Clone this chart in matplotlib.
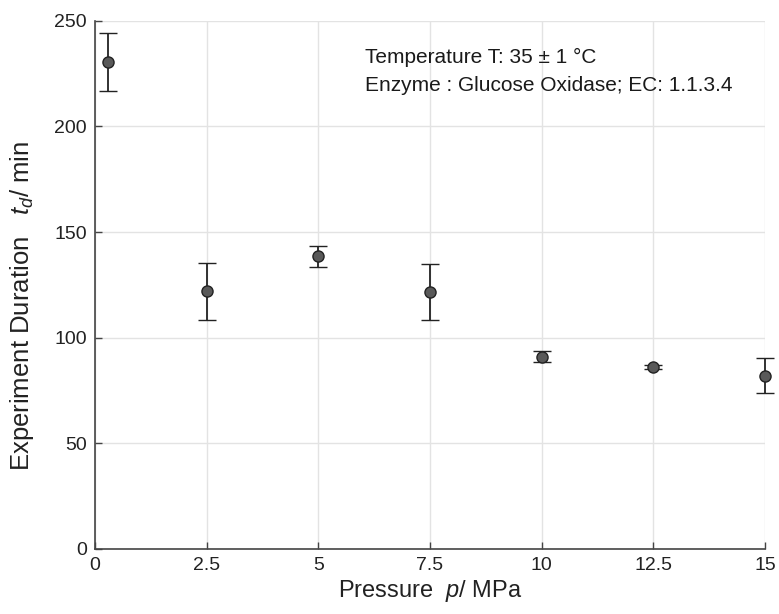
import matplotlib
matplotlib.use("Agg")
import matplotlib.pyplot as plt

pressure = [0.3, 2.5, 5.0, 7.5, 10.0, 12.5, 15.0]
duration = [230.5, 122.0, 138.5, 121.8, 91.0, 86.2, 82.0]
err = [13.8, 13.5, 4.8, 13.2, 2.5, 1.0, 8.2]
xticks = [0, 2.5, 5, 7.5, 10, 12.5, 15]
xticklabels = ["0", "2.5", "5", "7.5", "10", "12.5", "15"]
yticks = [0, 50, 100, 150, 200, 250]

plt.rcParams['font.family'] = ['Liberation Sans', 'DejaVu Sans']
plt.rcParams['mathtext.fontset'] = 'custom'
plt.rcParams['mathtext.it'] = 'Liberation Sans:italic'
plt.rcParams['mathtext.rm'] = 'Liberation Sans'

fig = plt.figure(figsize=(7.79, 6.14), dpi=100)
ax = fig.add_axes([0.122, 0.106, 0.86, 0.86])

cont = ax.errorbar(pressure, duration, yerr=err, fmt='o', color='#222222', ecolor='#222222',
                   elinewidth=1.3, capsize=6.5, capthick=1.3, markersize=8,
                   markerfacecolor='#595959', markeredgecolor='#222222', markeredgewidth=1.0,
                   zorder=3)
for art in cont.get_children():
    art.set_clip_on(False)

ax.set_xlim(0, 15)
ax.set_ylim(0, 250)
ax.set_xticks(xticks)
ax.set_xticklabels(xticklabels)
ax.set_yticks(yticks)
ax.grid(True, color='#e3e3e3', linewidth=1.0)
ax.set_axisbelow(True)
for s in ['top', 'right']:
    ax.spines[s].set_visible(False)
for s in ['left', 'bottom']:
    ax.spines[s].set_color('#444444')
    ax.spines[s].set_linewidth(1.2)
ax.tick_params(direction='in', length=5, width=1.0, color='#444444', labelsize=14,
               labelcolor='#222222', pad=6)

ax.set_xlabel(r"Pressure  $p$/ MPa", fontsize=17, color='#222222', labelpad=3)
ax.set_ylabel(r"Experiment Duration   $t_d$/ min", fontsize=18.5, color='#222222')
ax.yaxis.set_label_coords(-0.088, 0.46)

ax.text(6.05, 232.5, "Temperature T: 35 ± 1 °C", fontsize=15, color='#1a1a1a', va='center')
ax.text(6.05, 219.5, "Enzyme : Glucose Oxidase; EC: 1.1.3.4", fontsize=15, color='#1a1a1a', va='center')

fig.savefig("out.png", dpi=100)
